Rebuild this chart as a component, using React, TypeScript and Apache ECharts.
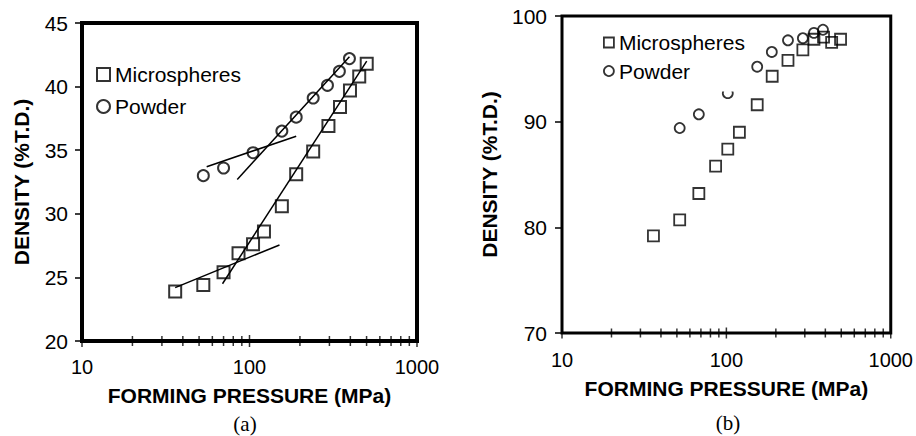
import React, { useEffect, useRef } from "react";
import * as echarts from "echarts";

// (a) left panel
const msPressureA = [36, 53, 70, 86, 105, 122, 156, 190, 240, 296, 347, 398, 452, 501];
const msDensityA = [23.9, 24.4, 25.4, 26.9, 27.6, 28.6, 30.6, 33.1, 34.9, 36.9, 38.4, 39.7, 40.8, 41.8];
const pwPressureA = [53, 70, 105, 156, 190, 240, 292, 344, 395];
const pwDensityA = [33.0, 33.6, 34.8, 36.5, 37.6, 39.1, 40.1, 41.2, 42.2];
// fit lines in (a): [x1, y1, x2, y2]
const fitMsLow = [36, 24.2, 151, 27.55];
const fitMsHigh = [69, 24.5, 501, 42.0];
const fitPwLow = [55.5, 33.7, 190, 36.1];
const fitPwHigh = [84.5, 32.7, 395, 42.35];

// (b) right panel
const msPressureB = [36, 52, 68, 86, 102, 120, 154, 190, 237, 292, 341, 390, 437, 495];
const msDensityB = [79.2, 80.7, 83.2, 85.8, 87.4, 89.0, 91.6, 94.3, 95.8, 96.8, 97.8, 98.0, 97.5, 97.8];
const pwPressureB = [52, 68, 102, 154, 189, 237, 292, 341, 387];
const pwDensityB = [89.4, 90.7, 92.7, 95.2, 96.6, 97.7, 97.9, 98.4, 98.7];

// x-axis tick positions (log decades)
const xMajorTicks = [10, 100, 1000];
const xMinorTicks = [20, 30, 40, 50, 60, 70, 80, 90, 200, 300, 400, 500, 600, 700, 800, 900];

const SANS = "'Liberation Sans', Arial, sans-serif";
const SERIF = "'Liberation Serif', 'Times New Roman', serif";

const zip = (xs: number[], ys: number[]) => xs.map((x, i) => [x, ys[i]]);
const seg = (s: number[]) => [[s[0], s[1]], [s[2], s[3]]];

function App() {
  const ref = useRef<HTMLDivElement>(null);
  useEffect(() => {
    if (!ref.current) return;
    const chart = echarts.init(ref.current, undefined, { renderer: "svg" });

    const xAxisBase = (gi: number, margin: number, gap: number) => ({
      type: "log",
      gridIndex: gi,
      min: 10,
      max: 1000,
      logBase: 10,
      axisLine: { show: false },
      axisTick: { show: false },
      splitLine: { show: false },
      minorTick: { show: false },
      axisLabel: { fontSize: 20, color: "#000", fontFamily: SANS, margin, formatter: (v: number) => String(Math.round(v)) },
      name: "FORMING PRESSURE (MPa)",
      nameLocation: "middle",
      nameGap: gap,
      nameTextStyle: { fontSize: 21, fontWeight: "bold", color: "#000", fontFamily: SANS },
    });
    const yAxisBase = (gi: number, min: number, max: number, interval: number, gap: number, margin: number) => ({
      type: "value",
      gridIndex: gi,
      min,
      max,
      interval,
      axisLine: { show: false },
      axisTick: { show: true, length: 7, lineStyle: { color: "#000", width: 1.5 } },
      splitLine: { show: false },
      axisLabel: { fontSize: 21, color: "#000", fontFamily: SANS, margin },
      name: "DENSITY (%T.D.)",
      nameLocation: "middle",
      nameGap: gap,
      nameTextStyle: { fontSize: 21, fontWeight: "bold", color: "#000", fontFamily: SANS },
    });

    const tickSeries = (gi: number, yMin: number, xs: number[], h: number) => ({
      type: "scatter",
      xAxisIndex: gi,
      yAxisIndex: gi,
      data: xs.map((x) => [x, yMin]),
      symbol: "rect",
      symbolSize: [1.5, h],
      itemStyle: { color: "#000" },
      silent: true,
      clip: false,
      z: 5,
    });
    const lineSeries = (s: number[]) => ({
      type: "line",
      xAxisIndex: 0,
      yAxisIndex: 0,
      data: seg(s),
      symbol: "none",
      lineStyle: { color: "#000", width: 1.5 },
      silent: true,
    });
    const markerStyle = (bw: number) => ({ color: "rgba(0,0,0,0)", borderColor: "#000", borderWidth: bw });

    const option: any = {
      animation: false,
      backgroundColor: "#fff",
      grid: [
        { left: 82, top: 23, width: 335, height: 318, show: true, borderColor: "#000", borderWidth: 4, backgroundColor: "rgba(0,0,0,0)" },
        { left: 562, top: 16, width: 330, height: 317, show: true, borderColor: "#000", borderWidth: 3, backgroundColor: "rgba(0,0,0,0)" },
      ],
      xAxis: [xAxisBase(0, 16, 44), xAxisBase(1, 17, 45)],
      yAxis: [yAxisBase(0, 20, 45, 5, 50, 14), yAxisBase(1, 70, 100, 10, 62, 15)],
      legend: [
        {
          orient: "vertical",
          left: 91,
          top: 59,
          itemGap: 11,
          itemWidth: 13,
          itemHeight: 13,
          textStyle: { fontSize: 21, color: "#000", fontFamily: SANS },
          itemStyle: { color: "rgba(0,0,0,0)", borderColor: "#000", borderWidth: 2 },
          data: [
            { name: "Microspheres", icon: "rect" },
            { name: "Powder", icon: "circle" },
          ],
        },
        {
          orient: "vertical",
          left: 595,
          top: 24,
          itemGap: 7.5,
          itemWidth: 10,
          itemHeight: 10,
          padding: [8, 6, 10, 8],
          backgroundColor: "#fff",
          textStyle: { fontSize: 21, color: "#000", fontFamily: SANS },
          itemStyle: { color: "rgba(0,0,0,0)", borderColor: "#000", borderWidth: 1.8 },
          data: [
            { name: "Microspheres", icon: "rect" },
            { name: "Powder", icon: "circle" },
          ],
          z: 10,
        },
      ],
      series: [
        lineSeries(fitMsLow),
        lineSeries(fitMsHigh),
        lineSeries(fitPwLow),
        lineSeries(fitPwHigh),
        {
          name: "Microspheres",
          type: "scatter",
          xAxisIndex: 0,
          yAxisIndex: 0,
          data: zip(msPressureA, msDensityA),
          symbol: "rect",
          symbolSize: 12,
          itemStyle: markerStyle(2),
          z: 3,
        },
        {
          name: "Powder",
          type: "scatter",
          xAxisIndex: 0,
          yAxisIndex: 0,
          data: zip(pwPressureA, pwDensityA),
          symbol: "circle",
          symbolSize: 11,
          itemStyle: markerStyle(2),
          z: 3,
        },
        {
          name: "Microspheres",
          type: "scatter",
          xAxisIndex: 1,
          yAxisIndex: 1,
          data: zip(msPressureB, msDensityB),
          symbol: "rect",
          symbolSize: 11,
          itemStyle: markerStyle(1.8),
          z: 3,
        },
        {
          name: "Powder",
          type: "scatter",
          xAxisIndex: 1,
          yAxisIndex: 1,
          data: zip(pwPressureB, pwDensityB),
          symbol: "circle",
          symbolSize: 10,
          itemStyle: markerStyle(1.8),
          z: 3,
        },
        tickSeries(0, 20, xMinorTicks, 10),
        tickSeries(0, 20, xMajorTicks, 12),
        tickSeries(1, 70, xMinorTicks, 9),
        tickSeries(1, 70, xMajorTicks, 11),
      ],
      graphic: [
        { type: "text", x: 245, y: 424, style: { text: "(a)", font: `21px ${SERIF}`, fill: "#000", textAlign: "center", textVerticalAlign: "middle" } },
        { type: "text", x: 728, y: 423, style: { text: "(b)", font: `21px ${SERIF}`, fill: "#000", textAlign: "center", textVerticalAlign: "middle" } },
      ],
    };
    chart.setOption(option);
    return () => chart.dispose();
  }, []);
  return <div ref={ref} style={{ position: "absolute", left: 0, top: 0, width: 916, height: 436 }} />;
}

export default App;
